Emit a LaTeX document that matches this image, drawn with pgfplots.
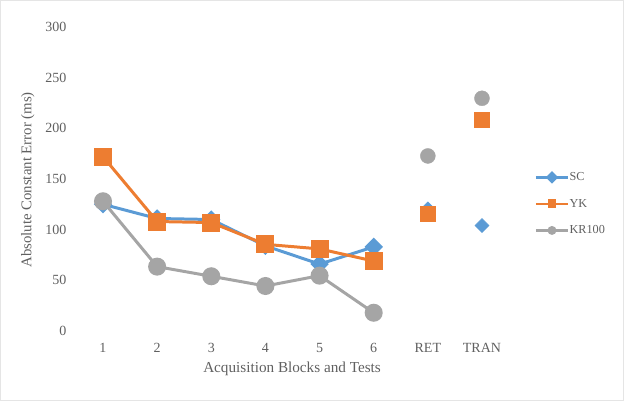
\documentclass[border=0pt]{standalone}
\usepackage{fontspec}
\setmainfont{Liberation Serif}
\usepackage{pgfplots}
\pgfplotsset{compat=1.18}

\definecolor{scblue}{HTML}{5B9BD5}
\definecolor{ykorange}{HTML}{ED7D31}
\definecolor{krgray}{HTML}{A5A5A5}
\definecolor{txtgray}{HTML}{606060}

\begin{document}
\begin{tikzpicture}
  % outer chart frame
  \draw[gray!20, line width=0.8bp] (0.5bp,0.5bp) rectangle (623.5bp,400.5bp);
  \begin{axis}[
    at={(76bp,70bp)}, anchor=south west,
    scale only axis, width=433bp, height=304bp,
    xmin=0.5, xmax=8.5, ymin=0, ymax=300,
    xtick={1,2,3,4,5,6,7,8},
    xticklabels={1,2,3,4,5,6,RET,TRAN},
    ytick={0,50,...,300},
    axis line style={draw=none},
    major tick style={draw=none},
    font=\fontsize{14bp}{16bp}\selectfont,
    every tick label/.append style={text=txtgray},
    /pgf/number format/assume math mode=true,
    yticklabel style={anchor=east, xshift=-6bp},
    xticklabel style={anchor=north, yshift=-9bp},
    xlabel={Acquisition Blocks and Tests},
    ylabel={Absolute Constant Error (ms)},
    xlabel style={text=txtgray, font=\fontsize{15.2bp}{17bp}\selectfont, at={(axis description cs:0.499,-0.125)}, anchor=center},
    ylabel style={text=txtgray, font=\fontsize{14.8bp}{17bp}\selectfont, at={(axis description cs:-0.111,0.497)}, anchor=center, rotate=0},
    clip=false,
    legend style={draw=none, fill=none, at={(1.052,0.418)}, anchor=west,
      font=\fontsize{12.2bp}{13bp}\selectfont, text=txtgray,
      row sep=16bp, nodes={inner sep=0.5bp}},
    legend cell align=left,
    legend image code/.code={
      \draw[mark repeat=2, mark phase=2, #1, mark size=3.2bp, line width=2.4pt]
        plot coordinates {(0bp,0bp) (16bp,0bp) (32bp,0bp)};
    },
  ]
    % acquisition blocks, joined by lines
    \addplot[scblue, line width=3pt, mark=square*, mark size=5bp,
      mark options={rotate=45, solid, fill=scblue, draw=scblue}]
      coordinates {(1,125) (2,111) (3,110) (4,84) (5,66) (6,83)};
    \addlegendentry{SC}
    \addplot[ykorange, line width=3pt, mark=square*, mark size=7.5bp,
      mark options={solid, fill=ykorange, draw=ykorange}]
      coordinates {(1,172) (2,108) (3,107) (4,85.5) (5,81) (6,69)};
    \addlegendentry{YK}
    \addplot[krgray, line width=3pt, mark=*, mark size=7.5bp,
      mark options={solid, fill=krgray, draw=krgray}]
      coordinates {(1,128) (2,63.5) (3,54) (4,44.4) (5,54.6) (6,18)};
    \addlegendentry{KR100}
    % retention and transfer tests, markers only
    \addplot[only marks, scblue, mark=square*, mark size=5bp,
      mark options={rotate=45, fill=scblue, draw=scblue}, forget plot]
      coordinates {(7,120.5) (8,104)};
    \addplot[only marks, ykorange, mark=square*, mark size=7.5bp,
      mark options={fill=ykorange, draw=ykorange}, forget plot]
      coordinates {(7,115.5) (8,208)};
    \addplot[only marks, krgray, mark=*, mark size=7.5bp,
      mark options={fill=krgray, draw=krgray}, forget plot]
      coordinates {(7,172.7) (8,229.6)};
  \end{axis}
\end{tikzpicture}
\end{document}
